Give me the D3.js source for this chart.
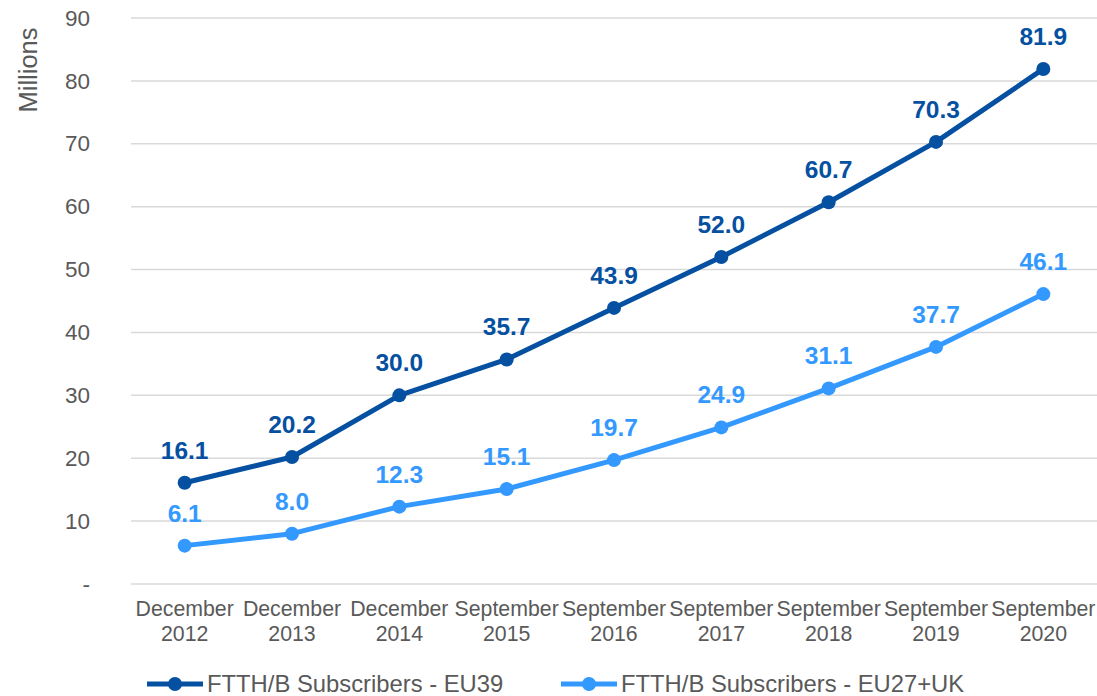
<!DOCTYPE html>
<html>
<head>
<meta charset="utf-8">
<script src="https://cdn.jsdelivr.net/npm/d3@7"></script>
<style>
  body { margin: 0; background: #fff; }
  svg { font-family: "Liberation Sans", Arial, sans-serif; }
  .grid line { stroke: #d9d9d9; stroke-width: 1.5; }
  .tick text { fill: #595959; }
</style>
</head>
<body>
<svg width="1097" height="696"></svg>
<script>
let width = 1097,
    height = 696,
    margin = ({ top: 18, right: 0, bottom: 112, left: 131 });

// data
const periods = [["December", "2012"], ["December", "2013"], ["December", "2014"],
  ["September", "2015"], ["September", "2016"], ["September", "2017"],
  ["September", "2018"], ["September", "2019"], ["September", "2020"]];
const eu39 = [16.1, 20.2, 30.0, 35.7, 43.9, 52.0, 60.7, 70.3, 81.9];
const eu27uk = [6.1, 8.0, 12.3, 15.1, 19.7, 24.9, 31.1, 37.7, 46.1];
const yTicks = [0, 10, 20, 30, 40, 50, 60, 70, 80, 90];
const seriesNames = ["FTTH/B Subscribers - EU39", "FTTH/B Subscribers - EU27+UK"];
const colors = ["#0550a0", "#3399ff"];

const svg = d3.select("svg");

const xScale = d3.scaleBand()
  .domain(periods.map((d, i) => i))
  .range([margin.left, width - margin.right]);

const yScale = d3.scaleLinear()
  .domain([0, 90])
  .range([height - margin.bottom, margin.top]);

// gridlines
svg.append("g")
  .attr("class", "grid")
  .selectAll("line")
  .data(yTicks)
  .join("line")
  .attr("x1", margin.left)
  .attr("x2", width - margin.right)
  .attr("y1", d => yScale(d))
  .attr("y2", d => yScale(d));

// y axis
const yAxis = d3.axisLeft(yScale)
  .tickValues(yTicks)
  .tickSize(0)
  .tickPadding(0)
  .tickFormat(d => d === 0 ? "-" : d);

svg.append("g")
  .attr("transform", "translate(90,0)")
  .call(yAxis)
  .call(g => g.select(".domain").remove())
  .selectAll("text")
  .attr("font-size", 22.5)
  .attr("font-family", "Liberation Sans, Arial, sans-serif");

svg.append("text")
  .attr("transform", "translate(37,70) rotate(-90)")
  .attr("text-anchor", "middle")
  .attr("font-size", 25.5)
  .attr("fill", "#595959")
  .text("Millions");

// x labels
const xl = svg.append("g")
  .selectAll("text")
  .data(periods)
  .join("text")
  .attr("text-anchor", "middle")
  .attr("font-size", 21.3)
  .attr("fill", "#595959")
  .attr("x", (d, i) => xScale(i) + xScale.bandwidth() / 2);
xl.append("tspan").attr("x", (d, i) => xScale(i) + xScale.bandwidth() / 2).attr("y", 616).text(d => d[0]);
xl.append("tspan").attr("x", (d, i) => xScale(i) + xScale.bandwidth() / 2).attr("y", 641).text(d => d[1]);

const cx = i => xScale(i) + xScale.bandwidth() / 2;
const line = d3.line().x((d, i) => cx(i)).y(d => yScale(d));

[eu39, eu27uk].forEach((vals, s) => {
  const g = svg.append("g");
  g.append("path")
    .datum(vals)
    .attr("d", line)
    .attr("fill", "none")
    .attr("stroke", colors[s])
    .attr("stroke-width", 5)
    .attr("stroke-linejoin", "round");
  g.selectAll("circle")
    .data(vals)
    .join("circle")
    .attr("cx", (d, i) => cx(i))
    .attr("cy", d => yScale(d))
    .attr("r", 7)
    .attr("fill", colors[s]);
  g.selectAll("text")
    .data(vals)
    .join("text")
    .attr("x", (d, i) => cx(i))
    .attr("y", d => yScale(d) - 24)
    .attr("text-anchor", "middle")
    .attr("font-size", 24.5)
    .attr("font-weight", "bold")
    .attr("fill", colors[s])
    .text(d => d.toFixed(1));
});

// legend
const legendX = [147, 561];
seriesNames.forEach((name, s) => {
  const lg = svg.append("g").attr("transform", `translate(${legendX[s]},684)`);
  lg.append("line")
    .attr("x1", 0).attr("x2", 56)
    .attr("stroke", colors[s]).attr("stroke-width", 5);
  lg.append("circle").attr("cx", 28).attr("r", 7).attr("fill", colors[s]);
  lg.append("text")
    .attr("x", 60).attr("y", 8)
    .attr("font-size", 23.8)
    .attr("fill", "#595959")
    .text(name);
});
</script>
</body>
</html>
